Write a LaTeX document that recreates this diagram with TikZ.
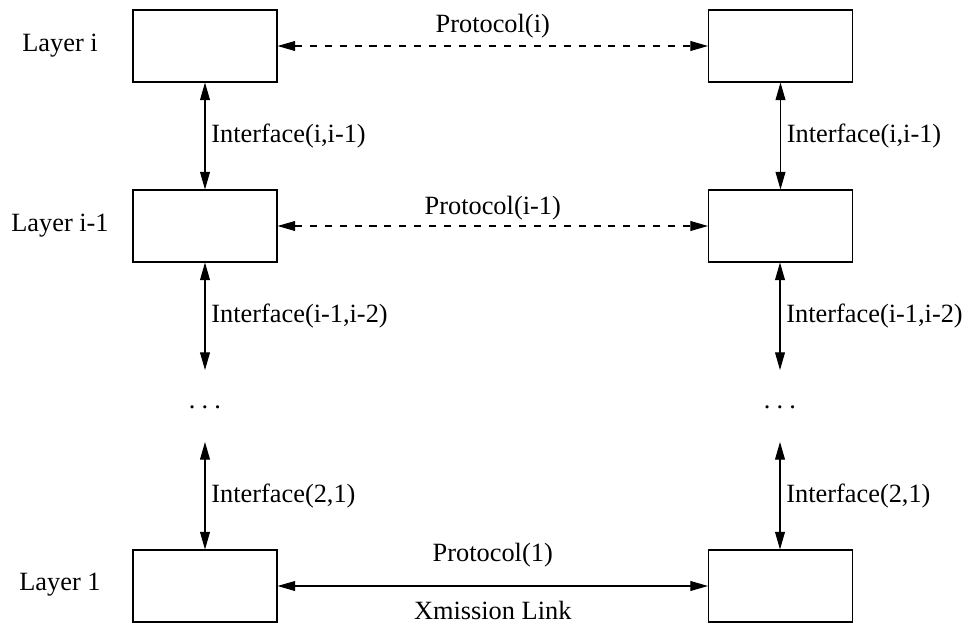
\documentclass[tikz,border=0pt]{standalone}
\usepackage{fontspec}
\setmainfont{Liberation Serif}
\usetikzlibrary{arrows.meta, positioning}

\begin{document}
\begin{tikzpicture}[
  x=0.02cm, y=-0.02cm,
  font=\fontsize{15}{18}\selectfont,
  box/.style   = {draw, line width=0.6pt, minimum width=2.88cm, minimum height=1.44cm, inner sep=0pt},
  arrow/.style = {line width=0.6pt, {Triangle[length=10pt, width=5.6pt]}-{Triangle[length=10pt, width=5.6pt]}},
  proto/.style = {arrow, dash pattern=on 4pt off 4.5pt},
  layer/.style = {anchor=center}
]
  \useasboundingbox (0,0) rectangle (967,625);

  % left stack
  \node[box] (l3) at (205,46) {};
  \node[box] (l2) at (205,226) {};
  \node[box] (l1) at (205,586) {};

  % right stack
  \node[box] (r3) at (780.5,46) {};
  \node[box] (r2) at (780.5,226) {};
  \node[box] (r1) at (780.5,586) {};

  % layer names
  \node[layer] (n3) at (60,46)  {Layer i};
  \node[layer] (n2) at (60,226) {Layer i-1};
  \node[layer] (n1) at (60,585) {Layer 1};

  % the gap between layer i-1 and layer 2
  \coordinate (lgapa) at (205,370);
  \coordinate (lgapb) at (205,442);
  \coordinate (rgapa) at (780,370);
  \coordinate (rgapb) at (780,442);
  \node[anchor=base] (ldots) at (205,408) {.\kern3.5pt.\kern3.5pt.};
  \node[anchor=base] (rdots) at (780,408) {.\kern3.5pt.\kern3.5pt.};

  % interfaces
  \draw[arrow] (l3) -- node[right] {Interface(i,i-1)} (l2);
  \draw[arrow] (r3) -- node[right] {Interface(i,i-1)} (r2);
  \draw[arrow] (l2) -- node[right] {Interface(i-1,i-2)} (lgapa);
  \draw[arrow] (r2.south -| rgapa) -- node[right] {Interface(i-1,i-2)} (rgapa);
  \draw[arrow] (lgapb) -- node[right] {Interface(2,1)} (l1);
  \draw[arrow] (rgapb) -- node[right] {Interface(2,1)} (r1.north -| rgapb);

  % peer protocols
  \draw[proto] (l3) -- node[above=1pt] {Protocol(i)} (r3);
  \draw[proto] (l2) -- node[above=0pt] {Protocol(i-1)} (r2);
  \draw[arrow] (l1) -- node[above=7pt] {Protocol(1)}
                       node[below=5pt] {Xmission Link} (r1);

\end{tikzpicture}
\end{document}
